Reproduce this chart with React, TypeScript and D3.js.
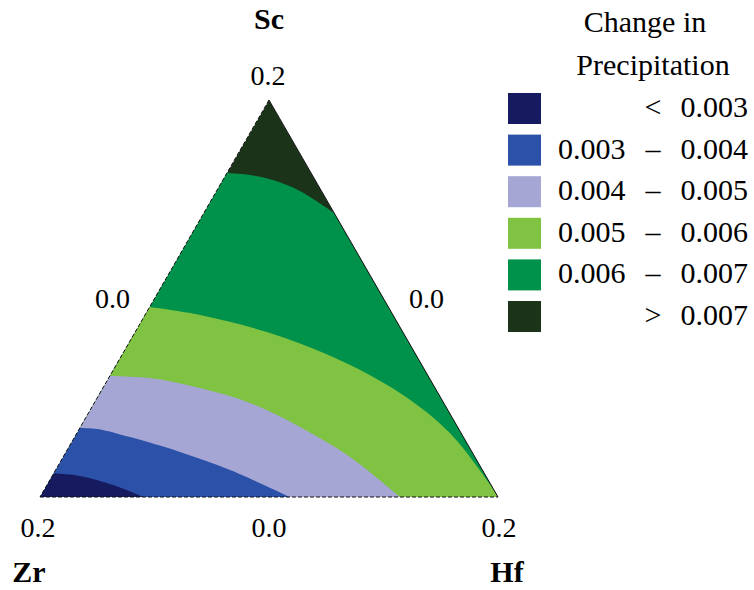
import React from 'react';
import * as d3 from 'd3';

const W = 754;
const H = 590;

// ternary mixture: Sc (top) + Zr (bottom left) + Hf (bottom right) = 0.2
const TOTAL = 0.2;
const thresholds = [0.003, 0.004, 0.005, 0.006, 0.007];
const bandColors = ['#161b60', '#2c51a8', '#a6a6d4', '#80c242', '#00924a', '#1b3419'];

// contour lines, as [Sc, Hf] pairs (Zr = 0.2 - Sc - Hf)
const contour003 = [[0.012, 0], [0.0106, 0.0122], [0.006, 0.029], [0, 0.045]];
const contour004 = [[0.0348, 0], [0.0343, 0.0078], [0.0302, 0.0242], [0.0227, 0.0498], [0.0136, 0.0762], [0, 0.1092]];
const contour005 = [[0.061, 0], [0.0599, 0.018], [0.0549, 0.0424], [0.0474, 0.068], [0.0353, 0.0959], [0.0202, 0.1253], [0, 0.1572]];
const contour006 = [[0.0957, 0], [0.0917, 0.0241], [0.0831, 0.0575], [0.0705, 0.0927], [0.0524, 0.131], [0.0322, 0.1629], [0.003, 0.197]];
const contour007 = [[0.1632, 0], [0.1622, 0.0106], [0.1597, 0.0219], [0.1542, 0.0364], [0.1431, 0.0569]];
const contours = [contour003, contour004, contour005, contour006, contour007];

// axis labels: vertices are 0.2, edge midpoints 0.0
const vertexNames = ['Sc', 'Zr', 'Hf'];
const vertexTicks = ['0.2', '0.2', '0.2'];
const edgeTicks = ['0.0', '0.0', '0.0'];

// legend text
const legendTitle = ['Change in', 'Precipitation'];
const legendLow = ['', '0.003', '0.004', '0.005', '0.006', ''];
const legendSym = ['<', '\u2013', '\u2013', '\u2013', '\u2013', '>'];
const legendHigh = ['0.003', '0.004', '0.005', '0.006', '0.007', '0.007'];

const FONT = "'Liberation Serif', 'DejaVu Serif', serif";

export default function App() {
  const xScale = d3.scaleLinear().domain([0, TOTAL]).range([40, 498]);
  const yScale = d3.scaleLinear().domain([0, TOTAL]).range([497, 100]);
  const proj = (p: number[]): [number, number] => [xScale(p[1] + p[0] / 2), yScale(p[0])];

  const apex = proj([TOTAL, 0]);
  const zrCorner = proj([0, 0]);
  const hfCorner = proj([0, TOTAL]);
  const corners = [apex, zrCorner, hfCorner];

  const curve = d3.line<number[]>()
    .x(d => proj(d)[0])
    .y(d => proj(d)[1])
    .curve(d3.curveCatmullRom.alpha(0.5));

  // region with value below a threshold: contour, then along the edges to Zr corner
  const belowPath = (pts: number[][]) => {
    const end = pts[pts.length - 1];
    const extra: [number, number][] = [];
    if (end[0] > 0) extra.push(hfCorner);
    extra.push(zrCorner);
    return curve(pts) + extra.map(c => `L${c[0]},${c[1]}`).join('') + 'Z';
  };

  const triPath = `M${apex[0]},${apex[1]}L${hfCorner[0]},${hfCorner[1]}L${zrCorner[0]},${zrCorner[1]}Z`;

  const nameOffsets = [[0, -71], [-11, 85], [9, 85]];
  const tickOffsets = [[-1, -15], [-2, 40], [1, 40]];
  const mids = [
    [(apex[0] + zrCorner[0]) / 2 - 42, (apex[1] + zrCorner[1]) / 2 + 9],
    [(zrCorner[0] + hfCorner[0]) / 2, zrCorner[1] + 40],
    [(apex[0] + hfCorner[0]) / 2 + 43, (apex[1] + hfCorner[1]) / 2 + 9],
  ];

  const rowY = d3.scaleLinear().domain([0, 1]).range([93, 134.6]);

  return (
    <svg width={W} height={H} style={{ position: 'absolute', left: 0, top: 0, fontFamily: FONT }}>
      <rect width={W} height={H} fill="#fff" />
      <defs>
        <clipPath id="tri">
          <path d={triPath} />
        </clipPath>
      </defs>
      <g clipPath="url(#tri)">
        <path d={triPath} fill={bandColors[5]} />
        {contours.map((c, i) => i).reverse().map(i => (
          <path key={i} d={belowPath(contours[i])} fill={bandColors[i]} />
        ))}
      </g>
      <line x1={apex[0]} y1={apex[1]} x2={hfCorner[0]} y2={hfCorner[1]} stroke="#111" strokeWidth={1} />
      <line x1={apex[0]} y1={apex[1]} x2={zrCorner[0]} y2={zrCorner[1]} stroke="#111" strokeWidth={1} strokeDasharray="4,2" />
      <line x1={zrCorner[0]} y1={zrCorner[1]} x2={hfCorner[0]} y2={hfCorner[1]} stroke="#111" strokeWidth={1.2} strokeDasharray="4,2" />

      {corners.map((c, i) => (
        <g key={i}>
          <text x={c[0] + nameOffsets[i][0]} y={c[1] + nameOffsets[i][1]} textAnchor="middle" fontSize={30} fontWeight="bold">{vertexNames[i]}</text>
          <text x={c[0] + tickOffsets[i][0]} y={c[1] + tickOffsets[i][1]} textAnchor="middle" fontSize={28}>{vertexTicks[i]}</text>
        </g>
      ))}
      {mids.map((m, i) => (
        <text key={i} x={m[0]} y={m[1]} textAnchor="middle" fontSize={28}>{edgeTicks[i]}</text>
      ))}

      <g fontSize={30}>
        <text x={645} y={32} textAnchor="middle">{legendTitle[0]}</text>
        <text x={653} y={75} textAnchor="middle">{legendTitle[1]}</text>
        {bandColors.map((col, i) => (
          <g key={i}>
            <rect x={508} y={rowY(i)} width={33} height={31} fill={col} />
            <text x={558} y={rowY(i) + 24} textAnchor="start">{legendLow[i]}</text>
            <text x={653} y={rowY(i) + 24} textAnchor="middle">{legendSym[i]}</text>
            <text x={748} y={rowY(i) + 24} textAnchor="end">{legendHigh[i]}</text>
          </g>
        ))}
      </g>
    </svg>
  );
}
